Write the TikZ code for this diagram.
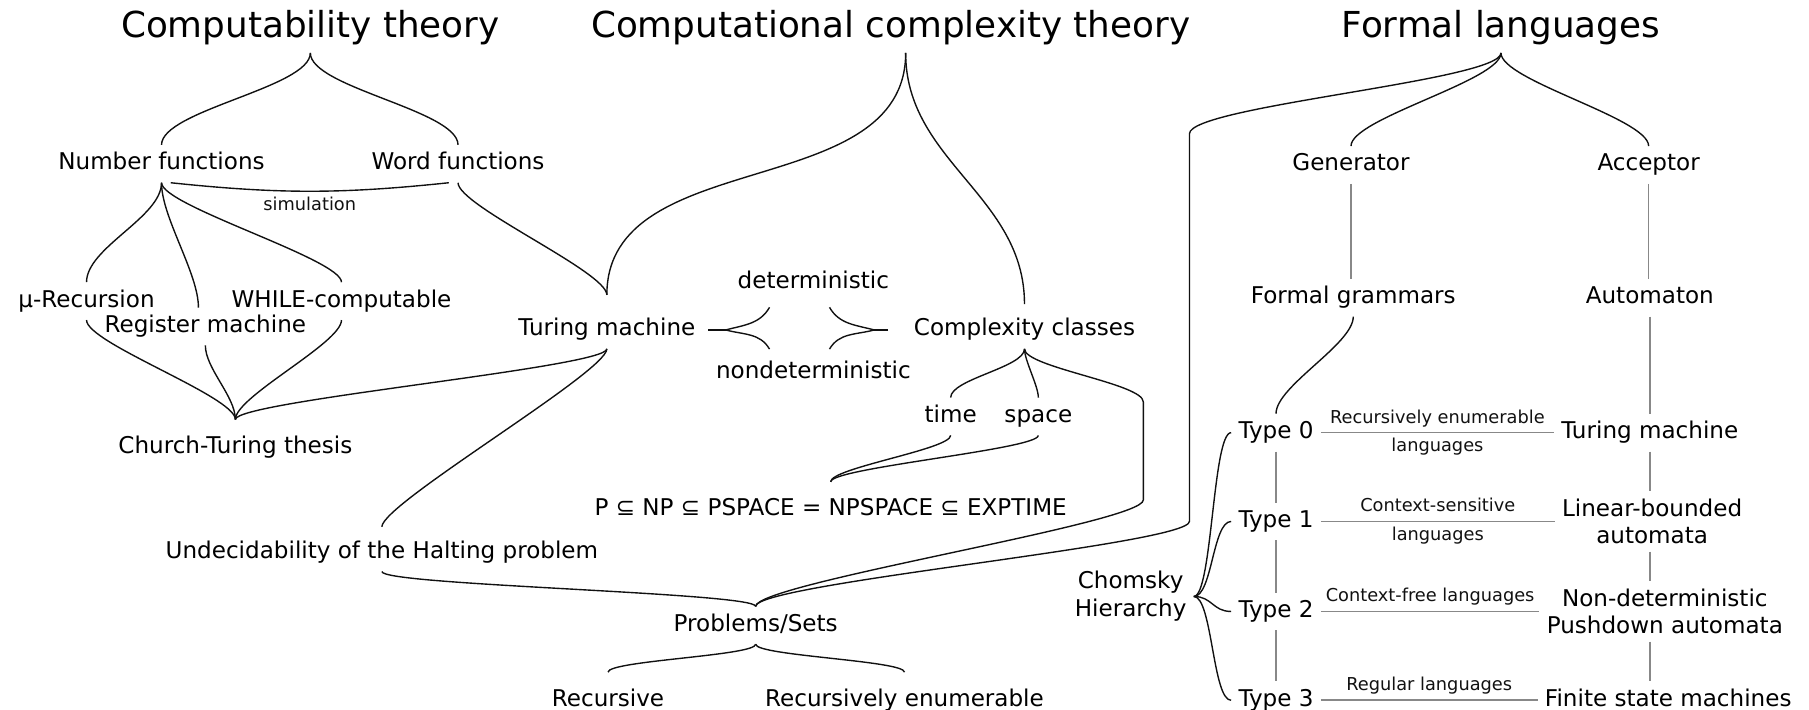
\documentclass[tikz,border=0pt]{standalone}
\usepackage{fontspec}
\setmainfont{DejaVu Sans}
\usepackage{tikz}
\usetikzlibrary{calc}
\definecolor{inkBlack}{HTML}{111111}
\definecolor{ruleGrey}{HTML}{888888}
\tikzset{
  titlelbl/.style={font=\fontsize{15.5}{18}\selectfont, text height=11.8pt, text depth=3.7pt, inner sep=3pt},
  lbl/.style={font=\fontsize{10}{12}\selectfont, text height=7.6pt, text depth=2.4pt, inner sep=3pt},
  twolbl/.style={font=\fontsize{10}{12}\selectfont, align=center, inner sep=3pt},
  smalllbl/.style={font=\fontsize{7.7}{9}\selectfont, text height=5.9pt, text depth=1.8pt, inner sep=2pt, text=inkBlack},
  link/.style={draw=inkBlack, line width=0.6pt},
  bracelink/.style={link, out=-90, in=90},
  greyline/.style={draw=ruleGrey, line width=0.7pt},
}

\begin{document}
\begin{tikzpicture}[x=0.5pt,y=-0.5pt]
  \useasboundingbox (0,0) rectangle (1568,615);

  % Titles
  \node[titlelbl] (ctitle) at (269,24) {Computability theory};
  \node[titlelbl] (xtitle) at (772,24) {Computational complexity theory};
  \node[titlelbl] (ftitle) at (1301,24) {Formal languages};

  % Computability theory
  \node[lbl] (nf) at (140,142) {Number functions};
  \node[lbl] (wf) at (397,142) {Word functions};
  \node[lbl] (mu) at (75,261) {μ-Recursion};
  \node[lbl] (wh) at (296,261) {WHILE-computable};
  \node[lbl] (rm) at (178,283) {Register machine};
  \node[lbl] (ct) at (204,388) {Church-Turing thesis};

  % Computational complexity theory
  \node[lbl] (tm) at (526,286) {Turing machine};
  \node[lbl] (det) at (705,245) {deterministic};
  \node[lbl] (ndet) at (705,323) {nondeterministic};
  \node[lbl] (cc) at (888,286) {Complexity classes};
  \node[lbl] (time) at (824,361) {time};
  \node[lbl] (space) at (900,361) {space};
  \node[lbl] (pnp) at (720,442) {P ⊆ NP ⊆ PSPACE = NPSPACE ⊆ EXPTIME};
  \node[lbl] (und) at (331,479) {Undecidability of the Halting problem};
  \node[lbl] (ps) at (655,542) {Problems/Sets};
  \node[lbl] (rec) at (527,607) {Recursive};
  \node[lbl] (renum) at (784,607) {Recursively enumerable};

  % Formal languages
  \node[lbl] (gen) at (1171,143) {Generator};
  \node[lbl] (acc) at (1429,143) {Acceptor};
  \node[lbl] (fg) at (1173,258) {Formal grammars};
  \node[lbl] (aut) at (1430,258) {Automaton};
  \node[twolbl] (chom) at (980,517) {Chomsky\\Hierarchy};
  \node[lbl] (t0) at (1106,375) {Type 0};
  \node[lbl] (t1) at (1106,452) {Type 1};
  \node[lbl] (t2) at (1106,530) {Type 2};
  \node[lbl] (t3) at (1106,607) {Type 3};
  \node[lbl] (tmr) at (1430,375) {Turing machine};
  \node[twolbl] (lba) at (1432,452) {Linear-bounded\\automata};
  \node[twolbl] (npda) at (1443,530) {Non-deterministic\\Pushdown automata};
  \node[lbl] (fsm) at (1446,607) {Finite state machines};

  % Computability links
  \draw[bracelink, distance=15pt] (ctitle.south) to (nf.north);
  \draw[bracelink, distance=15pt] (ctitle.south) to (wf.north);
  \draw[link] ([xshift=4pt]nf.south) to[bend right=6] node[smalllbl, below] (sim) {simulation} ([xshift=-4pt]wf.south);
  \draw[bracelink, distance=15pt] (nf.south) to (mu.north);
  \draw[bracelink, distance=15pt] (nf.south) to ([xshift=-3pt]rm.north);
  \draw[bracelink, distance=10pt] (nf.south) to (wh.north);
  \draw[bracelink, distance=10pt] (wf.south) to ([yshift=7pt]tm.north);
  \draw[bracelink, distance=10pt] (mu.south) to ([yshift=4pt]ct.north);
  \draw[bracelink, distance=10pt] (rm.south) to ([yshift=4pt]ct.north);
  \draw[bracelink, distance=10pt] (wh.south) to ([yshift=4pt]ct.north);
  \draw[bracelink, distance=8pt] (tm.south) to ([yshift=4pt]ct.north);
  \draw[bracelink, distance=10pt] (tm.south) to ([yshift=3pt]und.north);
  \draw[bracelink, distance=6pt] (und.south) to (ps.north);

  % Complexity links
  \draw[bracelink] ([xshift=6.5pt]xtitle.south) to ([yshift=7pt]tm.north);
  \draw[bracelink] ([xshift=6.5pt]xtitle.south) to ([yshift=3pt]cc.north);
  \draw[link] ([xshift=2.5pt]tm.east) -- ++(15,0) coordinate (dl);
  \draw[link] (dl) to[out=15, in=-120] ([xshift=-19pt,yshift=-2.5pt]det.south);
  \draw[link] (dl) to[out=-15, in=120] ([xshift=-19pt,yshift=2pt]ndet.north);
  \draw[link] ([xshift=-8pt]cc.west) -- ++(-12,0) coordinate (dr);
  \draw[link] (dr) to[out=165, in=-60] ([xshift=7pt,yshift=-2.5pt]det.south);
  \draw[link] (dr) to[out=-165, in=60] ([xshift=7pt,yshift=2pt]ndet.north);
  \draw[bracelink, distance=8pt] (cc.south) to (time.north);
  \draw[bracelink, distance=5pt] (cc.south) to (space.north);
  \draw[bracelink, distance=8pt] (cc.south) to ++(103,46) -- ++(0,85) to[distance=10pt] (ps.north);
  \draw[bracelink, distance=6pt] (time.south) to ([yshift=4pt]pnp.north);
  \draw[bracelink, distance=6pt] (space.south) to ([yshift=4pt]pnp.north);
  \draw[bracelink, distance=5pt] (ps.south) to ([yshift=4pt]rec.north);
  \draw[bracelink, distance=5pt] (ps.south) to ([yshift=4pt]renum.north);

  % Formal language links
  \draw[bracelink, distance=12pt] (ftitle.south) to (gen.north);
  \draw[bracelink, distance=12pt] (ftitle.south) to (acc.north);
  \draw[bracelink, distance=12pt] (ftitle.south) to ++(-270,70) -- ++(0,336) to[distance=10pt] (ps.north);
  \draw[greyline] (gen.south) -- (gen.south |- fg.north);
  \draw[greyline] (acc.south) -- (acc.south |- aut.north);
  \draw[bracelink, distance=12pt] (fg.south) to (t0.north);
  \draw[greyline] (aut.south) -- (aut.south |- tmr.north);
  \draw[greyline] (tmr.south) -- (tmr.south |- lba.north);
  \draw[greyline] (lba.south -| tmr.south) -- (npda.north -| tmr.south);
  \draw[greyline] (npda.south -| tmr.south) -- (fsm.north -| tmr.south);
  \draw[greyline] (t0) -- (t1);
  \draw[greyline] (t1) -- (t2);
  \draw[greyline] (t2) -- (t3);

  % Chomsky hierarchy
  \draw[link] (chom.east) to[out=0, in=180, distance=8pt] (t0.west);
  \draw[link] (chom.east) to[out=0, in=180, distance=8pt] (t1.west);
  \draw[link] (chom.east) to[out=0, in=180, distance=8pt] (t2.west);
  \draw[link] (chom.east) to[out=0, in=180, distance=8pt] (t3.west);
  \draw[greyline] (t0) -- node[smalllbl, above] {Recursively enumerable} node[smalllbl, below] {languages} (tmr);
  \draw[greyline] (t1) -- node[smalllbl, above] {Context-sensitive} node[smalllbl, below] {languages} (lba);
  \draw[greyline] (t2) -- node[smalllbl, above] {Context-free languages} (npda);
  \draw[greyline] (t3) -- node[smalllbl, above] {Regular languages} (fsm);
\end{tikzpicture}
\end{document}
